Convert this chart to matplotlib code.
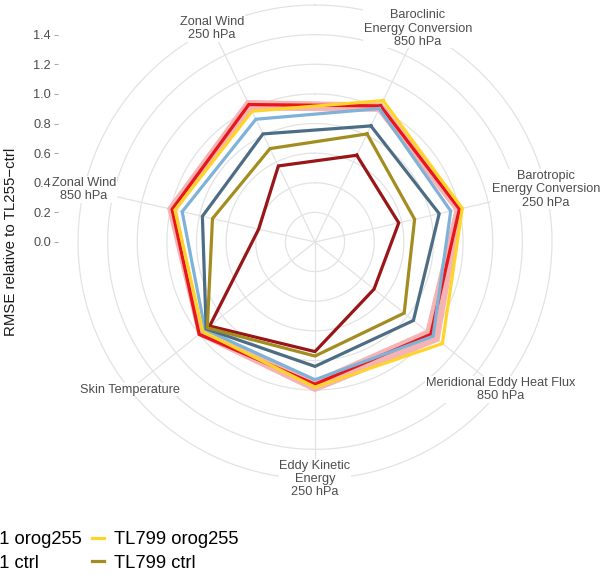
import numpy as np
import matplotlib.pyplot as plt
from matplotlib.path import Path
from matplotlib.patches import PathPatch

plt.rcParams['font.family'] = ['Liberation Sans', 'DejaVu Sans']

# variables, clockwise starting just right of north
variables = ["Baroclinic\nEnergy Conversion\n850 hPa",
             "Barotropic\nEnergy Conversion\n250 hPa",
             "Meridional Eddy Heat Flux\n850 hPa",
             "Eddy Kinetic\nEnergy\n250 hPa",
             "Skin Temperature",
             "Zonal Wind\n850 hPa",
             "Zonal Wind\n250 hPa"]

tl1279_orog = [1.02, 1.00, 1.00, 0.96, 1.00, 0.99, 1.03]
tl1279_ctrl = [0.65, 0.58, 0.51, 0.74, 0.91, 0.39, 0.57]
tl511_orog = [1.00, 0.94, 1.02, 0.93, 0.95, 0.92, 0.92]
tl511_ctrl = [0.87, 0.86, 0.85, 0.84, 0.94, 0.78, 0.81]
tl799_orog = [1.06, 1.02, 1.10, 0.98, 0.97, 0.97, 0.98]
tl799_ctrl = [0.81, 0.69, 0.77, 0.77, 0.93, 0.71, 0.70]

band_low = [0.98, 0.97, 0.96, 0.93, 0.97, 0.96, 0.99]
band_high = [1.04, 1.02, 1.07, 1.01, 1.01, 1.02, 1.06]

series = [("TL1279 orog255", tl1279_orog, "#E8161B"),
          ("TL1279 ctrl", tl1279_ctrl, "#9A1518"),
          ("TL511 orog255", tl511_orog, "#7FB2D8"),
          ("TL511 ctrl", tl511_ctrl, "#4C6D84"),
          ("TL799 orog255", tl799_orog, "#FFD42A"),
          ("TL799 ctrl", tl799_ctrl, "#A38D20")]

n = len(variables)
theta = np.pi / n + np.arange(n) * 2 * np.pi / n


def to_xy(vals):
    r = np.asarray(vals, dtype=float)
    return r * np.sin(theta), r * np.cos(theta)


fig = plt.figure(figsize=(6.01, 5.76), dpi=100)
W, H = 601, 576
cx, cy, scale = 315, 242, 148.1
left_px, right_px = 58, 601
top_px, bot_px = cy - 1.6 * scale, cy + 1.6 * scale
ax = fig.add_axes([left_px / W, (H - bot_px) / H,
                   (right_px - left_px) / W, (bot_px - top_px) / H])
ax.set_xlim((left_px - cx) / scale, (right_px - cx) / scale)
ax.set_ylim(-1.6, 1.6)

grid_col = "#E3E3E3"
circ = np.linspace(0, 2 * np.pi, 400)
for r in np.arange(0.2, 1.61, 0.2):
    ax.plot(r * np.sin(circ), r * np.cos(circ), color=grid_col, lw=0.9, zorder=1, clip_on=False)
for t in theta:
    ax.plot([0, 1.6 * np.sin(t)], [0, 1.6 * np.cos(t)], color=grid_col, lw=0.9, zorder=1, clip_on=False)

# spread band around TL1279 orog255
ox, oy = to_xy(band_high)
ix, iy = to_xy(band_low)
outer = np.column_stack([np.append(ox, ox[0]), np.append(oy, oy[0])])
inner = np.column_stack([np.append(ix, ix[0]), np.append(iy, iy[0])])[::-1]
verts = np.vstack([outer, inner])
codes = ([Path.MOVETO] + [Path.LINETO] * (len(outer) - 2) + [Path.CLOSEPOLY]) * 2
ax.add_patch(PathPatch(Path(verts, codes), facecolor="#F6B3B3", edgecolor="#F6B3B3",
                       lw=0.8, zorder=2))

handles = []
for name, vals, col in series:
    x, y = to_xy(vals)
    ln, = ax.plot(np.append(x, x[0]), np.append(y, y[0]), color=col, lw=2.3,
                  solid_joinstyle='miter', zorder=3, label=name)
    handles.append(ln)

for lab, t in zip(variables, theta):
    ax.text(1.6 * np.sin(t), 1.6 * np.cos(t), lab, ha='center', va='center',
            fontsize=9.2, color="#4D4D4D", linespacing=1.15, zorder=4,
            bbox=dict(facecolor='white', edgecolor='none', pad=0.5))

for s in ax.spines.values():
    s.set_visible(False)
ax.set_xticks([])
yt = np.arange(0, 1.41, 0.2)
ax.set_yticks(yt)
ax.set_yticklabels([f"{v:.1f}" for v in yt])
ax.tick_params(axis='y', length=3, width=0.8, color="#AAAAAA", labelcolor="#4D4D4D",
               labelsize=9.2, pad=2)
ax.set_ylabel("RMSE relative to TL255\u2212ctrl", fontsize=10.8, color="#1A1A1A", labelpad=5)
ax.yaxis.set_label_coords(-(left_px - 18) / (right_px - left_px), 0.5)

fig.legend(handles=handles, ncol=3, loc='upper right',
           bbox_to_anchor=(238 / W, 1 - 531 / H), frameon=False, fontsize=13.2,
           handlelength=0.65, handletextpad=0.5, columnspacing=0.6,
           labelspacing=0.36, borderpad=0, borderaxespad=0)

fig.savefig("out.png", dpi=100, facecolor='white')
